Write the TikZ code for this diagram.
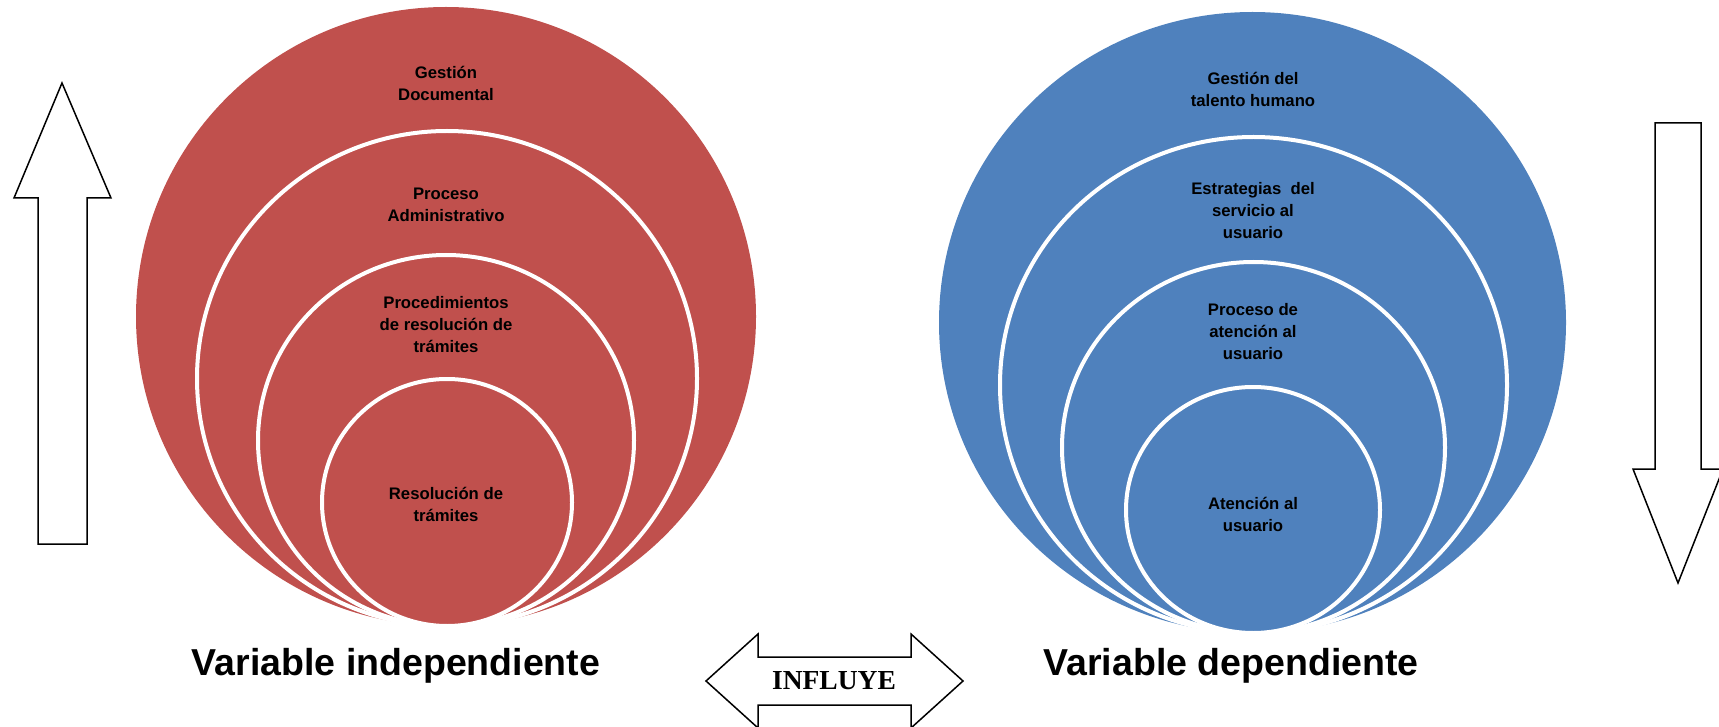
\documentclass[tikz,border=0pt]{standalone}
\usepackage{fontspec}
\usetikzlibrary{shapes.geometric}
\setmainfont{Liberation Sans}
\newfontfamily\serifbold{Liberation Serif}
\definecolor{varred}{HTML}{C0504D}
\definecolor{varblue}{HTML}{4F81BD}
\begin{document}
\begin{tikzpicture}[x=1pt,y=-1pt,
  disc/.style 2 args={ellipse,inner sep=0pt,outer sep=0pt,minimum width=#1,minimum height=#2},
  ring/.style 2 args={disc={#1}{#2},draw=white,line width=4pt},
  lbl/.style={align=center,text=black,font=\bfseries\fontsize{16.7}{22}\selectfont},
  title/.style={anchor=base,text=black,font=\bfseries\fontsize{37.5}{40}\selectfont},
  blockarrow/.style={draw=black,fill=white,line width=1.5pt,line join=miter}]
\useasboundingbox (0,0) rectangle (1719,727);

% independent variable: nested circles touching at the bottom
\node[disc={620pt}{619pt},fill=varred] (li1) at (446,316.5) {};
\node[ring={500pt}{495pt},fill=varred] (li2) at (447,378.5) {};
\node[ring={376pt}{371pt},fill=varred] (li3) at (446,440.5) {};
\node[ring={250pt}{247pt},fill=varred] (li4) at (447,502.5) {};
\node[lbl] (lt1) at (446,83) {Gestión\\Documental};
\node[lbl] (lt2) at (446,205) {Proceso\\Administrativo};
\node[lbl] (lt3) at (446,325) {Procedimientos\\de resolución de\\trámites};
\node[lbl] (lt4) at (446,504) {Resolución de\\trámites};

% dependent variable
\node[disc={627pt}{621pt},fill=varblue] (ri1) at (1252.5,322.5) {};
\node[ring={507pt}{496pt},fill=varblue] (ri2) at (1253.5,385) {};
\node[ring={383pt}{371pt},fill=varblue] (ri3) at (1253.5,447.5) {};
\node[ring={254pt}{246pt},fill=varblue] (ri4) at (1253,510) {};
\node[lbl] (rt1) at (1253,89) {Gestión del\\talento humano};
\node[lbl] (rt2) at (1253,211) {Estrategias~~del\\servicio al\\usuario};
\node[lbl] (rt3) at (1253,332) {Proceso de\\atención al\\usuario};
\node[lbl] (rt4) at (1253,514) {Atención al\\usuario};

% vertical block arrows
\draw[blockarrow] (62,83) -- (111,198) -- (87,198) -- (87,544) -- (38,544)
  -- (38,198) -- (14,198) -- cycle;
\draw[blockarrow] (1655,123) -- (1701,123) -- (1701,469) -- (1723,469)
  -- (1678,583) -- (1633,469) -- (1655,469) -- cycle;

% two-headed arrow between the variables
\draw[blockarrow] (706,681) -- (758,634) -- (758,657) -- (911,657) -- (911,634)
  -- (963,681) -- (911,728) -- (911,705) -- (758,705) -- (758,728) -- cycle;
\node[font=\serifbold\bfseries\fontsize{27.5}{30}\selectfont] (inf) at (834,681) {INFLUYE};

% captions
\node[title] (vi) at (396,675) {Variable independiente};
\node[title] (vd) at (1231,675) {Variable dependiente};
\end{tikzpicture}
\end{document}
